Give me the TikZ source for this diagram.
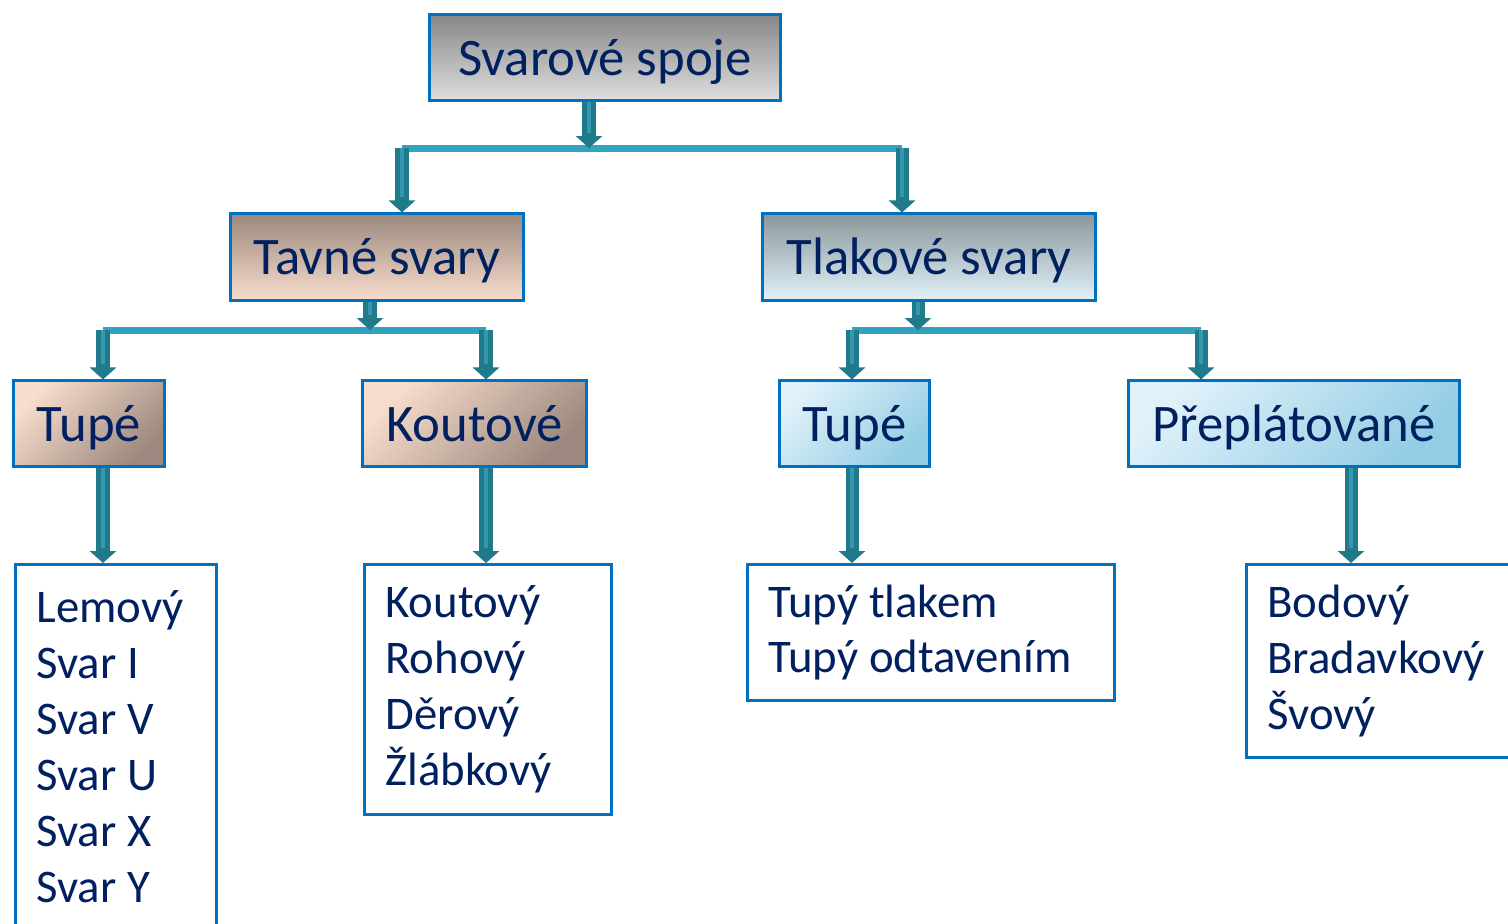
\documentclass[tikz,border=0pt]{standalone}
\usepackage{fontspec}
\setmainfont{Carlito}
\usetikzlibrary{arrows.meta}
\definecolor{navy}{RGB}{0,32,96}
\definecolor{frameblue}{RGB}{0,112,192}
\definecolor{arrowteal}{RGB}{33,122,140}
\definecolor{arrowlight}{RGB}{52,152,175}
\definecolor{barteal}{RGB}{49,163,191}
\definecolor{greytop}{RGB}{135,135,135}
\definecolor{greybot}{RGB}{222,222,222}
\definecolor{brownlight}{RGB}{248,221,204}
\definecolor{browndark}{RGB}{156,136,126}
\definecolor{bluelight}{RGB}{224,241,249}
\definecolor{bluedark}{RGB}{147,205,229}
\definecolor{tealgrey}{RGB}{138,152,155}
\tikzset{
	box/.style={draw=frameblue, line width=0.3mm, text=navy, inner sep=0pt},
	head/.style={box, font=\fontsize{15pt}{16pt}\selectfont, text height=10pt, text depth=0pt},
	greybox/.style={head, top color=greytop, bottom color=greybot},
	brownhead/.style={head, top color=browndark, bottom color=brownlight},
	bluehead/.style={head, top color=tealgrey, bottom color=bluelight},
	brownbox/.style={head, top color=brownlight, bottom color=browndark, shading angle=45},
	bluebox/.style={head, top color=bluelight, bottom color=bluedark, shading angle=45},
	listbox/.style={box, fill=white, anchor=north west, align=flush left, inner xsep=2.1mm,
		font=\fontsize{13.3pt}{15.9pt}\selectfont},
	bar/.style={draw=barteal, line width=0.7mm},
	blockarrow/.style={draw=arrowteal, line width=1.3mm, -{Triangle[width=2.6mm,length=1.2mm]},
		postaction={draw=arrowlight, line width=0.4mm, -, shorten >=1.5mm}}
}

\begin{document}
\begin{tikzpicture}[x=0.01cm, y=-0.01cm]
			\useasboundingbox (0,0) rectangle (1508,923);
			% level 0 and 1
			\node[greybox, minimum width=35mm, minimum height=8.5mm] (spoje) at (605,57.5) {Svarové spoje};
			\node[brownhead, minimum width=29.2mm, minimum height=8.6mm] (tavne) at (377,257) {Tavné svary};
			\node[bluehead, minimum width=33.2mm, minimum height=8.6mm] (tlakove) at (929,257) {Tlakové svary};
			% level 2
			\node[brownbox, minimum width=15mm, minimum height=8.5mm] (tupeA) at (89,423.5) {Tupé};
			\node[brownbox, minimum width=22.3mm, minimum height=8.5mm] (koutove) at (474.5,423.5) {Koutové};
			\node[bluebox, minimum width=14.9mm, minimum height=8.5mm] (tupeB) at (854.5,423.5) {Tupé};
			\node[bluebox, minimum width=33mm, minimum height=8.5mm] (preplat) at (1294,423.5) {Přeplátované};
			% lists
			\node[listbox, text width=15.9mm, minimum height=36.4mm] (listA) at (14,563)
				{Lemový\\Svar I\\Svar V\\Svar U\\Svar X\\Svar Y};
			\node[listbox, text width=20.5mm, minimum height=25mm] (listB) at (363,563)
				{Koutový\\Rohový\\Děrový\\Žlábkový};
			\node[listbox, text width=32.5mm, minimum height=13.6mm] (listC) at (746,563)
				{Tupý tlakem\\Tupý odtavením};
			\node[listbox, text width=25.8mm, minimum height=19.3mm] (listD) at (1245,563)
				{Bodový\\Bradavkový\\Švový};
			% junctions
			\coordinate (j0) at (589,148);
			\coordinate (j0l) at (402,148);
			\coordinate (j0r) at (902,148);
			\coordinate (j1) at (370,330);
			\coordinate (j1l) at (103,330);
			\coordinate (j1r) at (486,330);
			\coordinate (j2) at (918,330);
			\coordinate (j2l) at (852,330);
			\coordinate (j2r) at (1201,330);
			\coordinate (j3) at (1351,500);
			\draw[bar] (j0l) -- (j0r);
			\draw[bar] (j1l) -- (j1r);
			\draw[bar] (j2l) -- (j2r);
			\draw[blockarrow] (spoje.south -| j0) -- (j0);
			\draw[blockarrow] (j0l) -- (tavne.north -| j0l);
			\draw[blockarrow] (j0r) -- (tlakove.north -| j0r);
			\draw[blockarrow] (tavne.south -| j1) -- (j1);
			\draw[blockarrow] (j1l) -- (tupeA.north -| j1l);
			\draw[blockarrow] (j1r) -- (koutove.north -| j1r);
			\draw[blockarrow] (tlakove.south -| j2) -- (j2);
			\draw[blockarrow] (j2l) -- (tupeB.north -| j2l);
			\draw[blockarrow] (j2r) -- (preplat.north -| j2r);
			\draw[blockarrow] (tupeA.south -| j1l) -- (listA.north -| j1l);
			\draw[blockarrow] (koutove.south -| j1r) -- (listB.north -| j1r);
			\draw[blockarrow] (tupeB.south -| j2l) -- (listC.north -| j2l);
			\draw[blockarrow] (preplat.south -| j3) -- (listD.north -| j3);
\end{tikzpicture}
\end{document}
